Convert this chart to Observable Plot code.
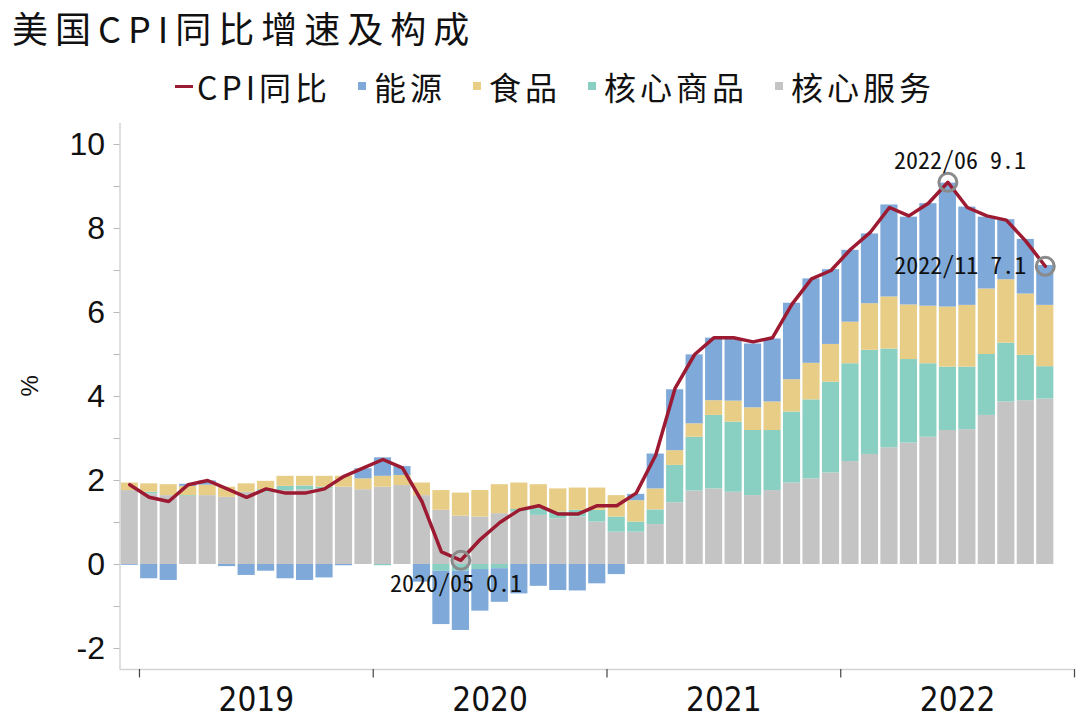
<!DOCTYPE html>
<html><head><meta charset="utf-8">
<script src="https://cdn.jsdelivr.net/npm/d3@7"></script>
<script src="https://cdn.jsdelivr.net/npm/@observablehq/plot@0.6"></script>
<style>
body{margin:0;background:#fff;}
#wrap{position:relative;width:1080px;height:721px;overflow:hidden;font-family:"Noto Sans CJK SC",sans-serif;color:#111;}
#title{position:absolute;left:12px;top:1px;font-size:36px;letter-spacing:7px;line-height:53px;white-space:nowrap;}
#legend{position:absolute;left:175px;top:68px;height:36px;display:flex;align-items:center;white-space:nowrap;}
.item{display:flex;align-items:center;margin-right:27px;}
.item span.t{font-size:32px;letter-spacing:4px;line-height:36px;}
.sq{width:8px;height:8px;margin-right:8px;}
.dash{width:18px;height:3px;margin-right:4px;}
#chart{position:absolute;left:0;top:110px;}
</style></head><body>
<div id="wrap">
<div id="title"></div>
<div id="legend"></div>
<div id="chart"></div>
</div>
<script>
const months = ["2018-12",
"2019-01","2019-02","2019-03","2019-04","2019-05","2019-06","2019-07","2019-08","2019-09","2019-10","2019-11","2019-12",
"2020-01","2020-02","2020-03","2020-04","2020-05","2020-06","2020-07","2020-08","2020-09","2020-10","2020-11","2020-12",
"2021-01","2021-02","2021-03","2021-04","2021-05","2021-06","2021-07","2021-08","2021-09","2021-10","2021-11","2021-12",
"2022-01","2022-02","2022-03","2022-04","2022-05","2022-06","2022-07","2022-08","2022-09","2022-10","2022-11"];
const xDomain = [...months, "2022-12"];
const services = [1.76,
1.68,1.64,1.62,1.64,1.60,1.72,1.72,1.76,1.78,1.80,1.84,1.78,
1.84,1.88,1.64,1.29,1.15,1.13,1.21,1.26,1.17,1.09,1.13,1.01,
0.77,0.77,0.95,1.47,1.75,1.80,1.72,1.64,1.76,1.94,2.04,2.18,
2.45,2.62,2.78,2.89,3.03,3.19,3.21,3.55,3.87,3.90,3.94];
const goods = [0.00,
0.04,0.00,0.02,0.00,0.00,0.00,0.06,0.10,0.09,0.04,0.00,0.00,
-0.03,0.00,0.00,-0.16,-0.16,-0.12,-0.10,0.05,0.16,0.16,0.16,0.28,
0.36,0.24,0.35,0.89,1.28,1.75,1.67,1.55,1.43,1.69,1.88,2.16,
2.33,2.48,2.35,1.99,1.75,1.51,1.49,1.45,1.40,1.08,0.77];
const food = [0.18,
0.20,0.26,0.22,0.25,0.24,0.20,0.20,0.24,0.23,0.26,0.26,0.26,
0.26,0.24,0.30,0.47,0.55,0.63,0.69,0.63,0.57,0.55,0.53,0.53,
0.51,0.51,0.50,0.35,0.32,0.35,0.50,0.54,0.68,0.77,0.87,0.90,
0.99,1.11,1.24,1.30,1.37,1.43,1.47,1.56,1.51,1.46,1.46];
const energy = [-0.02,
-0.34,-0.38,0.05,0.10,-0.05,-0.26,-0.16,-0.34,-0.38,-0.32,-0.03,0.24,
0.44,0.21,-0.42,-1.27,-1.41,-0.99,-0.80,-0.70,-0.52,-0.62,-0.63,-0.46,
-0.24,0.15,0.83,1.45,1.64,1.49,1.48,1.52,1.50,1.82,2.01,1.78,
1.71,1.66,2.19,2.09,2.44,2.95,2.34,1.71,1.43,1.30,0.95];
const cpi = [1.9,
1.6,1.5,1.9,2.0,1.8,1.6,1.8,1.7,1.7,1.8,2.1,2.3,
2.5,2.3,1.5,0.3,0.1,0.6,1.0,1.3,1.4,1.2,1.2,1.4,
1.4,1.7,2.6,4.2,5.0,5.4,5.4,5.3,5.4,6.2,6.8,7.0,
7.5,7.9,8.5,8.3,8.6,9.1,8.5,8.3,8.2,7.7,7.1];
const components = ["核心服务","核心商品","食品","能源"];
const compColors = ["#c4c4c4","#89d0c2","#e8cd86","#7ea9d9"];
const lineName = "CPI同比";
const lineColor = "#9c1b32";
const legendOrder = ["能源","食品","核心商品","核心服务"];
const yTicks = [-2,0,2,4,6,8,10];
const yMinor = [-1,1,3,5,7,9];
const years = ["2019","2020","2021","2022"];
const annoMonths = ["2020-05","2022-06","2022-11"];
const annoTexts = ["2020/05 0.1","2022/06 9.1","2022/11 7.1"];
const titleText = "美国CPI同比增速及构成";
const yLabel = "%";

document.getElementById("title").textContent = titleText;
const lg = document.getElementById("legend");
function addItem(cls, color, label){
  const it = document.createElement("div"); it.className = "item";
  const sw = document.createElement("div"); sw.className = cls; sw.style.background = color;
  const t = document.createElement("span"); t.className = "t"; t.textContent = label;
  it.appendChild(sw); it.appendChild(t); lg.appendChild(it);
}
addItem("dash", lineColor, lineName);
legendOrder.forEach(c => addItem("sq", compColors[components.indexOf(c)], c));

const series = [services, goods, food, energy];
const rows = [];
months.forEach((m, i) => components.forEach((c, k) => rows.push({month: m, component: c, value: series[k][i]})));
const linePts = months.map((m, i) => ({month: m, v: cpi[i]}));
const annos = annoMonths.map((m, k) => ({month: m, v: cpi[months.indexOf(m)], text: annoTexts[k]}));

const W = 1080, ML = 119.5, MR = 6;
const step = (W - ML - MR) / xDomain.length;
const yBottom = -2.5;
const monoFont = "'Noto Sans Mono CJK SC', 'DejaVu Sans Mono', monospace";

const chart = Plot.plot({
  width: W, height: 611,
  marginLeft: ML, marginRight: MR, marginTop: 13, marginBottom: 52,
  style: {fontFamily: "'Liberation Sans', Arial, sans-serif", background: "transparent", overflow: "visible"},
  x: {type: "band", domain: xDomain, paddingInner: 0.12, paddingOuter: 0.06, round: false, axis: null},
  y: {domain: [-2.5, 10.5], axis: null},
  color: {domain: components, range: compColors},
  marks: [
    Plot.barY(rows, {x: "month", y: "value", fill: "component"}),
    Plot.ruleY([yBottom], {stroke: "#d4d4d4", strokeWidth: 1.5}),
    Plot.ruleX([xDomain[0]], {dx: -step/2, stroke: "#d4d4d4", strokeWidth: 1.5}),
    Plot.ruleX(years.map(y => y + "-01"), {dx: -step/2, y1: yBottom, y2: -2.7, stroke: "#444", strokeWidth: 1.2}),
    Plot.ruleX([xDomain[xDomain.length - 1]], {dx: step/2, y1: yBottom, y2: -2.7, stroke: "#444", strokeWidth: 1.2}),
    Plot.text(years, {x: y => y + "-07", y: () => yBottom, text: d => d, dx: -step/2, dy: 31,
      fontSize: 33, fontFamily: "'Liberation Sans Narrow', 'DejaVu Sans Condensed', sans-serif", fill: "#111"}),
    Plot.axisY(yTicks, {tickSize: 6, tickPadding: 9, fontSize: 32, tickFormat: d => String(d), stroke: "#b8b8b8", fill: "#111"}),
    Plot.axisY(yMinor, {tickSize: 6, tickFormat: () => "", stroke: "#b8b8b8"}),
    Plot.text([yLabel], {frameAnchor: "left", rotate: -90, dx: -90, fontSize: 24, fill: "#111"}),
    Plot.line(linePts, {x: "month", y: "v", stroke: lineColor, strokeWidth: 3.5, strokeLinejoin: "round"}),
    Plot.dot(annos, {x: "month", y: "v", r: 9, stroke: "#8a8a8a", strokeWidth: 3, fill: "none"}),
    Plot.text(annos.filter((d, k) => k === 0), {x: "month", y: "v", text: "text", dx: -5, dy: 24,
      fontSize: 24, fontFamily: monoFont, fill: "#111"}),
    Plot.text(annos.filter((d, k) => k === 1), {x: "month", y: "v", text: "text", dx: 12, dy: -21,
      fontSize: 24, fontFamily: monoFont, fill: "#111"}),
    Plot.text(annos.filter((d, k) => k === 2), {x: "month", y: "v", text: "text", dx: -19, dy: 0, textAnchor: "end",
      fontSize: 24, fontFamily: monoFont, fill: "#111"})
  ]
});
document.getElementById("chart").appendChild(chart);
</script>
</body></html>
